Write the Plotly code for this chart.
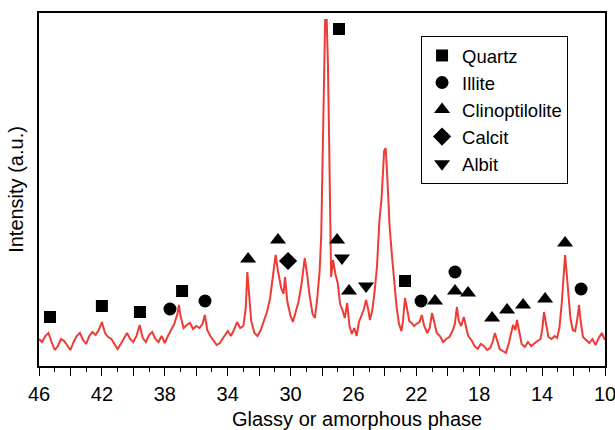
import plotly.graph_objects as go

# XRD trace (2-theta, intensity in arbitrary units)
two_theta = [46.0, 45.8, 45.6, 45.4, 45.2, 45.0, 44.8, 44.6, 44.4, 44.2, 44.0, 43.8, 43.6, 43.4, 43.2, 43.0,
             42.8, 42.6, 42.4, 42.2, 42.0, 41.8, 41.6, 41.4, 41.2, 41.0, 40.8, 40.6, 40.4, 40.2, 40.0,
             39.8, 39.6, 39.4, 39.2, 39.0, 38.8, 38.6, 38.4, 38.2, 38.0, 37.8, 37.6, 37.4, 37.2, 37.1,
             37.0, 36.8, 36.6, 36.4, 36.2, 36.0, 35.8, 35.6, 35.45, 35.3, 35.1, 34.9, 34.7, 34.5, 34.3,
             34.1, 34.0, 33.8, 33.6, 33.4, 33.2, 33.0, 32.85, 32.75, 32.65, 32.5, 32.3, 32.1, 31.9, 31.7,
             31.5, 31.3, 31.1, 30.95, 30.8, 30.6, 30.45, 30.35, 30.2, 30.0, 29.85, 29.7, 29.5, 29.3, 29.1,
             28.95, 28.8, 28.6, 28.45, 28.3, 28.15, 28.05, 27.95, 27.88, 27.8, 27.7, 27.62, 27.55, 27.48,
             27.42, 27.3, 27.15, 27.0, 26.85, 26.7, 26.55, 26.4, 26.25, 26.1, 25.95, 25.8, 25.65, 25.5,
             25.35, 25.2, 25.05, 24.95, 24.8, 24.65, 24.5, 24.35, 24.2, 24.05, 23.95, 23.85, 23.7, 23.55,
             23.4, 23.25, 23.1, 22.95, 22.85, 22.72, 22.6, 22.45, 22.3, 22.15, 22.0, 21.8, 21.65, 21.5,
             21.3, 21.15, 21.0, 20.85, 20.7, 20.5, 20.3, 20.1, 19.9, 19.7, 19.55, 19.42, 19.3, 19.15,
             18.98, 18.85, 18.7, 18.5, 18.3, 18.1, 17.9, 17.7, 17.5, 17.3, 17.15, 17.0, 16.85, 16.7, 16.5,
             16.3, 16.1, 15.95, 15.85, 15.7, 15.6, 15.45, 15.3, 15.1, 14.9, 14.7, 14.5, 14.3, 14.1, 13.98,
             13.88, 13.75, 13.6, 13.4, 13.2, 13.05, 12.9, 12.75, 12.62, 12.54, 12.45, 12.35, 12.2, 12.05,
             11.9, 11.78, 11.65, 11.55, 11.4, 11.2, 11.0, 10.8, 10.6, 10.4, 10.2, 10.0]
intensity = [27, 24, 30, 33, 24, 16, 20, 27, 25, 20, 16, 24, 30, 33, 26, 22,
             30, 34, 31, 36, 44, 33, 29, 27, 22, 17, 22, 28, 33, 27, 24,
             30, 41, 28, 24, 31, 34, 27, 24, 30, 23, 30, 36, 42, 52, 61,
             50, 38, 41, 43, 37, 40, 38, 42, 51, 36, 30, 26, 21, 23, 28,
             33, 35, 30, 36, 44, 38, 40, 58, 94, 70, 45, 33, 30, 36, 44,
             54, 68, 90, 111, 95, 78, 72, 89, 64, 50, 44, 52, 64, 82, 108,
             92, 72, 52, 48, 68, 95, 130, 230, 300, 346, 346, 300, 230, 120,
             89, 106, 92, 83, 62, 56, 48, 63, 40, 32, 38, 30, 44, 50,
             56, 66, 56, 46, 56, 75, 100, 145, 170, 215, 218, 190, 140, 110,
             80, 58, 42, 35, 45, 68, 58, 45, 43, 40, 42, 44, 51, 40,
             33, 38, 53, 42, 33, 30, 24, 27, 29, 35, 42, 59, 45, 40,
             49, 40, 30, 26, 20, 17, 22, 20, 16, 18, 24, 33, 26, 17, 15,
             13, 24, 33, 41, 36, 46, 34, 22, 19, 24, 20, 23, 25, 27, 38,
             54, 40, 29, 27, 30, 28, 38, 63, 95, 111, 95, 76, 48, 36,
             35, 45, 61, 45, 29, 26, 23, 27, 21, 28, 33, 26]

# Phase markers (2-theta, label height)
quartz_x = [45.3, 42.0, 39.58, 36.9, 26.92, 22.72]
quartz_y = [49, 60, 54, 75, 337, 85]
illite_x = [37.67, 35.44, 21.7, 19.54, 11.52]
illite_y = [57, 65, 65, 94, 77]
clino_x = [32.7, 30.8, 27.04, 26.28, 20.81, 19.54, 18.71, 17.18, 16.23, 15.21, 13.81, 12.54]
clino_y = [107, 126, 126, 75, 65, 75, 73, 48, 56, 61, 67, 123]
calcit_x = [30.16]
calcit_y = [105]
albit_x = [26.73, 25.2]
albit_y = [108, 80]

major_ticks = [46, 44, 42, 40, 38, 36, 34, 32, 30, 28, 26, 24, 22, 20, 18, 16, 14, 12, 10]
tick_labels = ["46", "", "42", "", "38", "", "34", "", "30", "", "26", "", "22", "", "18", "", "14", "", "10"]

fig = go.Figure()
fig.add_trace(go.Scatter(x=two_theta, y=intensity, mode="lines",
                         line=dict(color="#ee3b36", width=2), showlegend=False, hoverinfo="skip"))

phases = [
    ("Quartz", quartz_x, quartz_y, "square", 12),
    ("Illite", illite_x, illite_y, "circle", 13),
    ("Clinoptilolite", clino_x, clino_y, "triangle-up", 14),
    ("Calcit", calcit_x, calcit_y, "diamond", 14),
    ("Albit", albit_x, albit_y, "triangle-down", 14),
]
for name, xs, ys, sym, sz in phases:
    fig.add_trace(go.Scatter(x=xs, y=ys, mode="markers", name=name,
                             marker=dict(symbol=sym, size=sz, color="black")))

font_family = "Liberation Sans, Arial, sans-serif"
fig.update_layout(
    width=615, height=430,
    margin=dict(l=39, r=10, t=13, b=64),
    paper_bgcolor="white", plot_bgcolor="white",
    font=dict(family=font_family, size=20, color="black"),
    legend=dict(x=0.675, y=0.935, xanchor="left", yanchor="top",
                bordercolor="black", borderwidth=1, bgcolor="white",
                font=dict(size=18.5), tracegroupgap=0, itemwidth=30),
    xaxis=dict(range=[46, 10], showgrid=False, zeroline=False, automargin=False,
               showline=True, linecolor="black", linewidth=1.5, mirror=True,
               tickmode="array", tickvals=major_ticks, ticktext=tick_labels,
               ticks="outside", ticklen=8, tickwidth=1.2, tickcolor="black",
               ticklabelstandoff=1, ticklabeloverflow="allow",
               minor=dict(dtick=1, ticks="outside", ticklen=4, tickwidth=1.2, tickcolor="black", showgrid=False),
               tickfont=dict(size=20)),
    yaxis=dict(range=[0, 353], showgrid=False, zeroline=False, automargin=False,
               showline=True, linecolor="black", linewidth=1.5, mirror=True,
               showticklabels=False, ticks="",
               title=dict(text="Intensity (a.u.)", standoff=8, font=dict(size=20))),
    annotations=[dict(text="Glassy or amorphous phase", xref="paper", yref="paper",
                      x=0.562, y=-0.150, xanchor="center", yanchor="middle",
                      showarrow=False, font=dict(size=20))],
)

fig.write_html("out.html")
